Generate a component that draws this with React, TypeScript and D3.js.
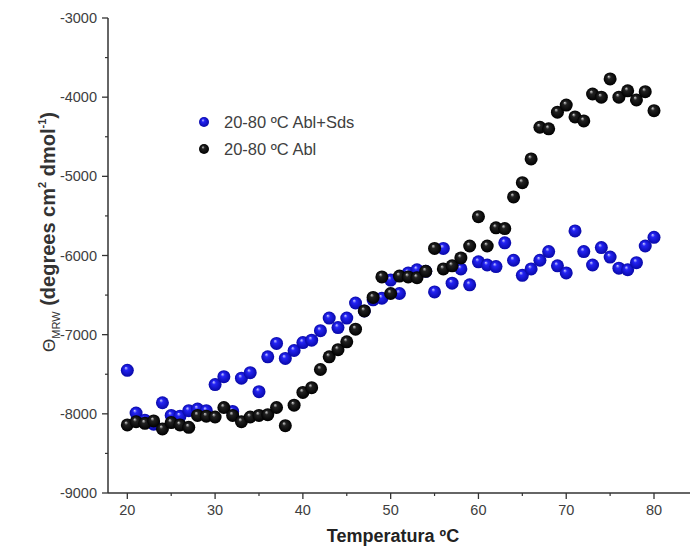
import React from "react";
import * as d3 from "d3";

const temps: number[] = d3.range(20, 81);

const ablSds: number[] = [
  -7450, -7990, -8080, -8130, -7860, -8020, -8030, -7960, -7940, -7960,
  -7630, -7530, -7970, -7550, -7480, -7720, -7280, -7110, -7300, -7200,
  -7100, -7070, -6950, -6790, -6910, -6790, -6600, -6700, -6560, -6540,
  -6310, -6480, -6220, -6180, -6200, -6460, -5910, -6350, -6170, -6370,
  -6080, -6120, -6140, -5840, -6060, -6250, -6170, -6060, -5950, -6130,
  -6220, -5690, -5950, -6120, -5900, -6020, -6160, -6180, -6090, -5880,
  -5770,
];

const abl: number[] = [
  -8140, -8100, -8120, -8090, -8190, -8110, -8140, -8170, -8020, -8030,
  -8040, -7920, -8020, -8100, -8040, -8020, -8010, -7920, -8150, -7890,
  -7730, -7670, -7440, -7280, -7190, -7090, -6930, -6700, -6530, -6270,
  -6480, -6260, -6270, -6280, -6200, -5910, -6170, -6130, -6030, -5880,
  -5510, -5880, -5650, -5660, -5260, -5080, -4780, -4380, -4400, -4190,
  -4100, -4250, -4300, -3960, -4000, -3770, -4000, -3920, -4035, -3930,
  -4170,
];

const xTicks: number[] = [20, 30, 40, 50, 60, 70, 80];
const xMinor: number[] = [25, 35, 45, 55, 65, 75];
const yTicks: number[] = [-3000, -4000, -5000, -6000, -7000, -8000, -9000];
const yMinor: number[] = [-3500, -4500, -5500, -6500, -7500, -8500];
const seriesNames: string[] = ["20-80 ºC Abl+Sds", "20-80 ºC Abl"];

const W = 691;
const H = 549;

export default function App() {
  const x = d3.scaleLinear().domain([17.8, 84.1]).range([108, 690]);
  const y = d3.scaleLinear().domain([-9000, -3000]).range([493, 18]);
  const font = "Arial, 'Liberation Sans', sans-serif";
  const tc = "#404040";
  const x0 = x.range()[0];
  const y0 = y.range()[0];
  const r = 6.5;

  const series = [
    { name: seriesNames[0], vals: ablSds, grad: "gBlue" },
    { name: seriesNames[1], vals: abl, grad: "gBlack" },
  ];

  return (
    <svg
      width={W}
      height={H}
      style={{ position: "absolute", left: 0, top: 0, background: "#fff" }}
    >
      <defs>
        <radialGradient id="gBlue" cx="0.5" cy="0.5" r="0.5" fx="0.38" fy="0.3">
          <stop offset="0" stopColor="#d0d0ff" />
          <stop offset="0.3" stopColor="#2424f4" />
          <stop offset="1" stopColor="#0808a8" />
        </radialGradient>
        <radialGradient id="gBlack" cx="0.5" cy="0.5" r="0.5" fx="0.38" fy="0.3">
          <stop offset="0" stopColor="#d8d8d8" />
          <stop offset="0.3" stopColor="#222" />
          <stop offset="1" stopColor="#000" />
        </radialGradient>
      </defs>

      {/* axes */}
      <line x1={x0} x2={x0} y1={y(-3000)} y2={y0} stroke="#333" strokeWidth={1.5} />
      <line x1={x0} x2={690} y1={y0} y2={y0} stroke="#333" strokeWidth={1.5} />

      {yTicks.map((t) => (
        <g key={"yt" + t}>
          <line x1={x0 - 6} x2={x0} y1={y(t)} y2={y(t)} stroke="#333" strokeWidth={1.3} />
          <text
            x={x0 - 11}
            y={y(t)}
            dy="0.35em"
            textAnchor="end"
            fontFamily={font}
            fontSize={14.5}
            fill={tc}
          >
            {t}
          </text>
        </g>
      ))}
      {yMinor.map((t) => (
        <line key={"ym" + t} x1={x0 - 3} x2={x0} y1={y(t)} y2={y(t)} stroke="#333" strokeWidth={1.2} />
      ))}
      {xTicks.map((t) => (
        <g key={"xt" + t}>
          <line x1={x(t)} x2={x(t)} y1={y0} y2={y0 + 6} stroke="#333" strokeWidth={1.3} />
          <text
            x={x(t)}
            y={y0 + 22}
            textAnchor="middle"
            fontFamily={font}
            fontSize={14.5}
            fill={tc}
          >
            {t}
          </text>
        </g>
      ))}
      {xMinor.map((t) => (
        <line key={"xm" + t} x1={x(t)} x2={x(t)} y1={y0} y2={y0 + 3} stroke="#333" strokeWidth={1.2} />
      ))}

      {/* axis titles */}
      <text
        x={393}
        y={542}
        textAnchor="middle"
        fontFamily={font}
        fontSize={18}
        fontWeight="bold"
        fill="#222"
      >
        Temperatura ºC
      </text>
      <text
        transform={`translate(55,232) rotate(-90)`}
        textAnchor="middle"
        fontFamily={font}
        fontSize={20}
        fill="#333"
      >
        <tspan fontWeight="normal" fontSize={17}>Θ</tspan>
        <tspan fontSize={11} dy={5}>MRW</tspan>
        <tspan dy={-5} fontWeight="bold"> (degrees cm</tspan>
        <tspan fontSize={11} dy={-9} fontWeight="bold">2</tspan>
        <tspan dy={9} fontWeight="bold"> dmol</tspan>
        <tspan fontSize={11} dy={-9} fontWeight="bold">-1</tspan>
        <tspan dy={9} fontWeight="bold">)</tspan>
      </text>

      {/* data */}
      {series.map((s) => (
        <g key={s.name}>
          {s.vals.map((v, i) => (
            <circle
              key={i}
              cx={x(temps[i])}
              cy={y(v)}
              r={r}
              fill={`url(#${s.grad})`}
            />
          ))}
        </g>
      ))}

      {/* legend */}
      {series.map((s, i) => (
        <g key={"lg" + i} transform={`translate(204,${122 + i * 27})`}>
          <circle cx={0} cy={0} r={5} fill={`url(#${s.grad})`} />
          <text
            x={20}
            y={0}
            dy="0.35em"
            fontFamily={font}
            fontSize={16.5}
            fill={tc}
          >
            {s.name}
          </text>
        </g>
      ))}
    </svg>
  );
}
